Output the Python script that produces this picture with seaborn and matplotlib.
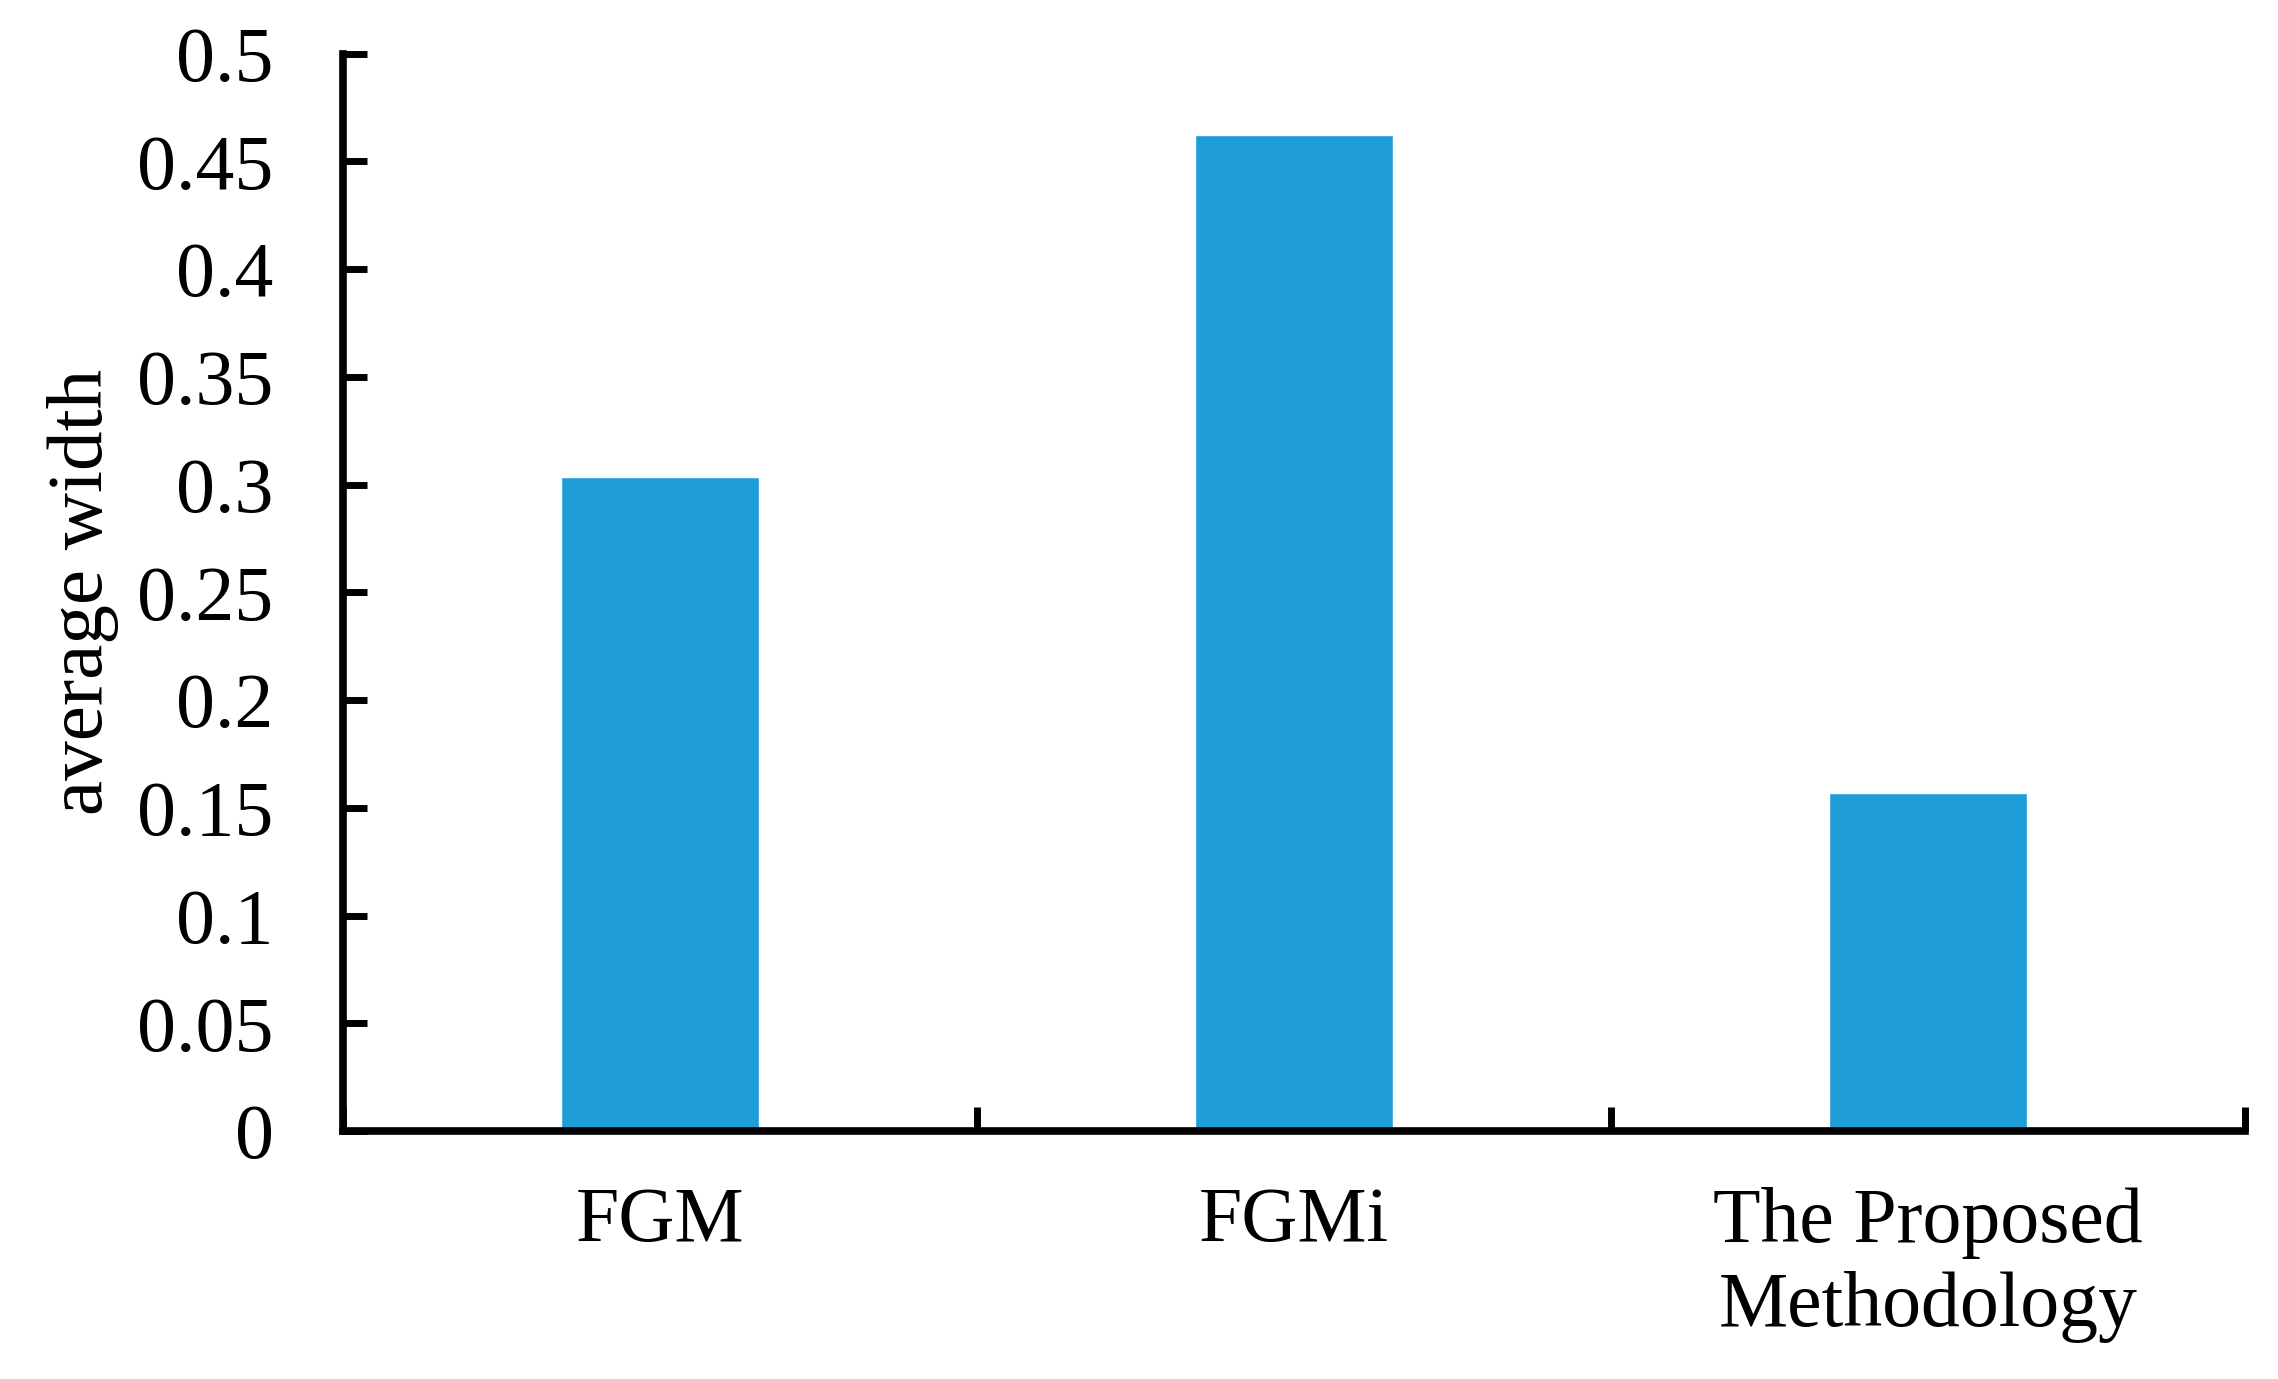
import pandas as pd
import matplotlib.pyplot as plt
import seaborn as sns

methods = ['FGM', 'FGMi', 'The Proposed\nMethodology']
avg_width = [0.3035, 0.4622, 0.1568]
y_ticks = [0, 0.05, 0.1, 0.15, 0.2, 0.25, 0.3, 0.35, 0.4, 0.45, 0.5]
y_tick_labels = ['0', '0.05', '0.1', '0.15', '0.2', '0.25', '0.3', '0.35', '0.4', '0.45', '0.5']

df = pd.DataFrame({'method': methods, 'avg_width': avg_width})

sns.set_style("white")
plt.rcParams['font.family'] = ['Liberation Serif', 'DejaVu Serif']
plt.rcParams['text.color'] = 'black'
plt.rcParams['axes.labelcolor'] = 'black'
plt.rcParams['xtick.color'] = 'black'
plt.rcParams['ytick.color'] = 'black'

fig = plt.figure(figsize=(22.78, 13.79), dpi=100)
ax = fig.add_axes([0.1506, 0.1798, 0.8349, 0.7814])

sns.barplot(data=df, x='method', y='avg_width', color='#1E9DD9',
            saturation=1, width=0.312, ax=ax)

ax.set_xlim(-0.5, 2.5)
ax.set_ylim(0, 0.5)
ax.set_yticks(y_ticks)
ax.set_yticklabels(y_tick_labels)

# category labels on major ticks (no mark), boundary marks on minor ticks
ax.set_xticks([0, 1, 2])
ax.set_xticklabels(methods, linespacing=1.22)
ax.set_xticks([-0.5, 0.5, 1.5, 2.5], minor=True)
ax.tick_params(axis='x', which='major', bottom=True, length=0, pad=40, labelsize=56)
ax.tick_params(axis='x', which='minor', bottom=True, direction='in', length=17, width=5)
ax.tick_params(axis='y', left=True, direction='in', length=17, width=5, pad=50, labelsize=56)

for side in ['top', 'right']:
    ax.spines[side].set_visible(False)
for side in ['left', 'bottom']:
    ax.spines[side].set_linewidth(5.5)
    ax.spines[side].set_color('black')

ax.set_xlabel('')
ax.set_ylabel('average width', fontsize=57)
ax.yaxis.set_label_coords(-0.118, 0.5)

fig.savefig('out.png', dpi=100)
